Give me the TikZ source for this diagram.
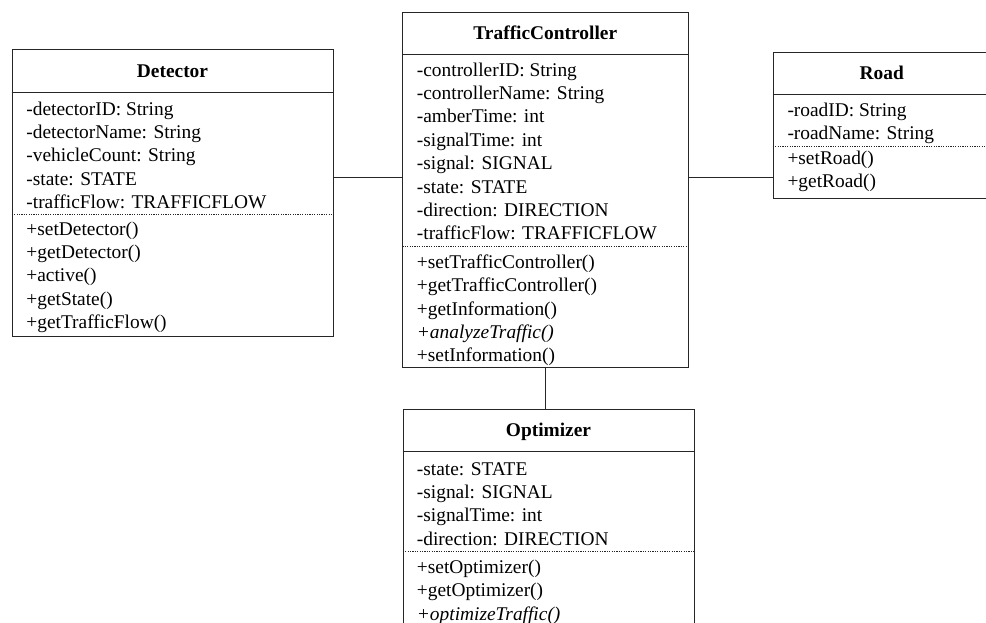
\documentclass[tikz,border=0pt]{standalone}
\usepackage{fontspec}
\setmainfont{Liberation Serif}
\begin{document}
\begin{tikzpicture}[x=1pt,y=-1pt,
  box/.style={draw=black!85, line width=1pt, rectangle, inner sep=0pt, anchor=north west},
  txt/.style={anchor=base west, inner sep=0pt, font=\fontsize{19.4}{23.4}\selectfont, text=black},
  ttl/.style={anchor=base, inner sep=0pt, font=\fontsize{19.4}{23.4}\selectfont\bfseries, text=black},
  sepline/.style={draw=black!85, line width=0.9pt},
  dotline/.style={draw=black!85, line width=0.7pt, dash pattern=on 1.2pt off 1.2pt},
  link/.style={draw=black!85, line width=1pt}]
\useasboundingbox (0,0) rectangle (986,622);
\clip (0,0) rectangle (986,622);

% ---------- Detector ----------
\node[box, minimum width=321.6pt, minimum height=286.4pt] (det) at (11.7,49.3) {};
\node[ttl] (det-t) at (172.5,77.3) {Detector};
\draw[sepline] (det.west |- 0,92.3) -- (det.east |- 0,92.3);
\foreach \t [count=\i] in {-detectorID: String,-detectorName: String,-vehicleCount: String,-state: STATE,-trafficFlow: TRAFFICFLOW}
  \node[txt] (det-a\i) at (26.2,{115+23.4*(\i-1)}) {\t};
\draw[dotline] (det.west |- 0,214) -- (det.east |- 0,214);
\foreach \t [count=\i] in {+setDetector(),+getDetector(),+active(),+getState(),+getTrafficFlow()}
  \node[txt] (det-m\i) at (26.2,{235+23.4*(\i-1)}) {\t};

% ---------- TrafficController ----------
\node[box, minimum width=286pt, minimum height=355.6pt] (tc) at (402.3,11.7) {};
\node[ttl] (tc-t) at (545.3,39.3) {TrafficController};
\draw[sepline] (tc.west |- 0,54.3) -- (tc.east |- 0,54.3);
\foreach \t [count=\i] in {-controllerID: String,-controllerName: String,-amberTime: int,-signalTime: int,-signal: SIGNAL,-state: STATE,-direction: DIRECTION,-trafficFlow: TRAFFICFLOW}
  \node[txt] (tc-a\i) at (416.7,{76+23.4*(\i-1)}) {\t};
\draw[dotline] (tc.west |- 0,246.7) -- (tc.east |- 0,246.7);
\foreach \t [count=\i] in {+setTrafficController(),+getTrafficController(),+getInformation(),{\itshape +analyzeTraffic()},+setInformation()}
  \node[txt] (tc-m\i) at (416.7,{268.3+23.4*(\i-1)}) {\t};

% ---------- Road ----------
\node[box, minimum width=218pt, minimum height=146.6pt] (road) at (772.7,51.7) {};
\node[ttl] (road-t) at (881.7,79.3) {Road};
\draw[sepline] (road.west |- 0,94) -- (road.east |- 0,94);
\foreach \t [count=\i] in {-roadID: String,-roadName: String}
  \node[txt] (road-a\i) at (787.3,{116+23.4*(\i-1)}) {\t};
\draw[dotline] (road.west |- 0,146) -- (road.east |- 0,146);
\foreach \t [count=\i] in {+setRoad(),+getRoad()}
  \node[txt] (road-m\i) at (787.3,{164+23.0*(\i-1)}) {\t};

% ---------- Optimizer ----------
\node[box, minimum width=291.6pt, minimum height=240pt] (opt) at (402.7,409.3) {};
\node[ttl] (opt-t) at (548.5,436.7) {Optimizer};
\draw[sepline] (opt.west |- 0,451.7) -- (opt.east |- 0,451.7);
\foreach \t [count=\i] in {-state: STATE,-signal: SIGNAL,-signalTime: int,-direction: DIRECTION}
  \node[txt] (opt-a\i) at (416.7,{475+23.4*(\i-1)}) {\t};
\draw[dotline] (opt.west |- 0,551.7) -- (opt.east |- 0,551.7);
\foreach \t [count=\i] in {+setOptimizer(),+getOptimizer(),{\itshape +optimizeTraffic()}}
  \node[txt] (opt-m\i) at (416.7,{573.3+23.4*(\i-1)}) {\t};

% ---------- connectors ----------
\coordinate (cy) at (0,177.7);
\draw[link] (det.east |- cy) -- (tc.west |- cy);
\draw[link] (tc.east |- cy) -- (road.west |- cy);
\draw[link] (tc.south) -- (tc.south |- opt.north);
\end{tikzpicture}
\end{document}
